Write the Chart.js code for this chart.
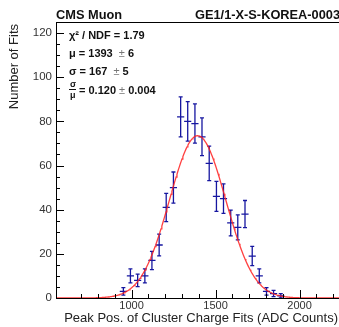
<!DOCTYPE html>
<html>
<head>
<meta charset="utf-8">
<script src="https://cdn.jsdelivr.net/npm/chart.js@4/dist/chart.umd.min.js"></script>
<style>
  html, body { margin: 0; padding: 0; background: #fff; overflow: hidden; }
  #wrap { width: 339px; height: 327px; overflow: hidden; position: relative; }
  canvas { position: absolute; left: 0; top: 0; }
</style>
</head>
<body>
<div id="wrap"><canvas id="peakChart" width="352" height="327"></canvas></div>
<script>
// Peak position histogram (bin centres in ADC counts) and entries per bin
const binCenters = [951, 993, 1036, 1079, 1121, 1164, 1206, 1249, 1292, 1334, 1377, 1419,
                    1462, 1505, 1547, 1590, 1632, 1675, 1718, 1760, 1803, 1845, 1888];
const binCounts  = [3, 10, 8, 10, 17, 24, 41, 50, 82, 80, 79, 73,
                    61, 46, 45, 34, 32, 38, 19, 10, 3, 2, 1];
const binWidth = 42.67;

// Gaussian fit results
const fitConstant = 73.5;
const fitMean = 1393;
const fitSigma = 167;
const fitChi2Ndf = '1.79';

// Axis ranges and labelled ticks
const xRange = [550, 2300];
const yRange = [0, 125];
const xTickLabels = [1000, 1500, 2000];
const yTickLabels = [0, 20, 40, 60, 80, 100, 120];

const BLUE = '#1616a0';
const FONT = '"Liberation Sans", Arial, Helvetica, sans-serif';

const histPoints = binCenters.map((x, i) => ({ x: x, y: binCounts[i] }));

const fitPoints = [];
for (let x = xRange[0]; x <= xRange[1]; x += 5) {
    const z = (x - fitMean) / fitSigma;
    fitPoints.push({ x: x, y: fitConstant * Math.exp(-0.5 * z * z) });
}

// ROOT-style error bars: Poisson errors, horizontal bar over the bin
const errorBars = {
    id: 'errorBars',
    beforeDatasetsDraw(chart) {
        const { ctx, scales: { x, y } } = chart;
        ctx.save();
        ctx.strokeStyle = BLUE;
        ctx.lineWidth = 1.3;
        ctx.beginPath();
        histPoints.forEach(p => {
            const err = Math.sqrt(p.y);
            const px = x.getPixelForValue(p.x);
            const py = y.getPixelForValue(p.y);
            const pl = x.getPixelForValue(p.x - binWidth / 2);
            const pr = x.getPixelForValue(p.x + binWidth / 2);
            const pt = y.getPixelForValue(p.y + err);
            const pb = y.getPixelForValue(p.y - err);
            ctx.moveTo(pl, py); ctx.lineTo(pr, py);
            ctx.moveTo(px, pt); ctx.lineTo(px, pb);
            ctx.moveTo(px - 2, pt); ctx.lineTo(px + 2, pt);
            ctx.moveTo(px - 2, pb); ctx.lineTo(px + 2, pb);
        });
        ctx.stroke();
        ctx.restore();
    }
};

// Frame and inward tick marks
const frame = {
    id: 'frame',
    afterDraw(chart) {
        const { ctx, chartArea: a, scales: { x, y } } = chart;
        ctx.save();
        ctx.strokeStyle = '#000';
        ctx.lineWidth = 1;
        ctx.strokeRect(a.left + 0.5, a.top + 0.5, a.right - a.left, a.bottom - a.top);
        ctx.beginPath();
        x.ticks.forEach(t => {
            if (t.value % 100 !== 0) return;
            const px = Math.round(x.getPixelForValue(t.value)) + 0.5;
            const len = t.value % 500 === 0 ? 8 : 4;
            ctx.moveTo(px, a.bottom); ctx.lineTo(px, a.bottom - len);
        });
        y.ticks.forEach(t => {
            const py = Math.round(y.getPixelForValue(t.value)) + 0.5;
            const len = t.value % 20 === 0 ? 8 : 4;
            ctx.moveTo(a.left, py); ctx.lineTo(a.left + len, py);
        });
        ctx.stroke();
        ctx.restore();
    }
};

function drawRuns(ctx, x, y, runs) {
    runs.forEach(r => {
        ctx.font = r[1] + ' 11px ' + FONT;
        ctx.fillStyle = r[2] || '#111';
        ctx.fillText(r[0], x, y);
        x += ctx.measureText(r[0]).width;
    });
    return x;
}

// Titles, axis titles and fit summary
const labels = {
    id: 'labels',
    afterDraw(chart) {
        const { ctx, chartArea: a } = chart;
        ctx.save();
        ctx.textBaseline = 'alphabetic';
        ctx.fillStyle = '#111';
        ctx.font = 'bold 12.8px ' + FONT;
        ctx.fillText('CMS Muon', 56, 19);
        ctx.fillText('GE1/1-X-S-KOREA-0003', 195, 19);

        ctx.font = '13px ' + FONT;
        ctx.fillStyle = '#222';
        ctx.textAlign = 'right';
        ctx.fillText('Peak Pos. of Cluster Charge Fits (ADC Counts)', 338, 322);

        ctx.save();
        ctx.translate(18, a.top + 2);
        ctx.rotate(-Math.PI / 2);
        ctx.font = '13px ' + FONT;
        ctx.fillText('Number of Fits', 0, 0);
        ctx.restore();

        ctx.textAlign = 'left';
        const gray = '#777';
        drawRuns(ctx, 69, 39, [['\u03c7\u00b2 / NDF = ' + fitChi2Ndf, 'bold']]);
        drawRuns(ctx, 69, 57, [['\u03bc = ' + fitMean, 'bold'], ['  \u00b1 ', 'normal', gray], ['6', 'bold']]);
        drawRuns(ctx, 69, 75, [['\u03c3 = ' + fitSigma, 'bold'], ['  \u00b1 ', 'normal', gray], ['5', 'bold']]);

        // sigma over mu fraction
        ctx.font = 'bold 9px ' + FONT;
        ctx.fillStyle = '#111';
        ctx.fillText('\u03c3', 70, 87);
        ctx.fillText('\u03bc', 70, 98);
        ctx.fillRect(69, 89, 7, 1);
        drawRuns(ctx, 79, 94, [['= 0.120', 'bold'], [' \u00b1 ', 'normal', gray], ['0.004', 'bold']]);
        ctx.restore();
    }
};

new Chart(document.getElementById('peakChart'), {
    type: 'scatter',
    data: {
        datasets: [{
            label: 'Peak positions',
            data: histPoints,
            pointRadius: 0,
            showLine: false
        }, {
            label: 'Gaussian fit',
            type: 'line',
            data: fitPoints,
            borderColor: 'rgba(255, 30, 30, 0.85)',
            borderWidth: 1.3,
            pointRadius: 0,
            tension: 0,
            fill: false
        }]
    },
    options: {
        responsive: false,
        animation: false,
        events: [],
        layout: { padding: { top: 22, right: 2, left: 0, bottom: 0 } },
        plugins: { legend: { display: false }, tooltip: { enabled: false } },
        scales: {
            x: {
                type: 'linear',
                min: xRange[0],
                max: xRange[1],
                grid: { display: false },
                border: { display: false },
                afterFit: s => { s.height = 29; },
                ticks: {
                    stepSize: 100,
                    autoSkip: false,
                    maxRotation: 0,
                    padding: -7,
                    color: '#333',
                    font: { size: 11, family: FONT },
                    callback: v => xTickLabels.includes(v) ? String(v) : ''
                }
            },
            y: {
                min: yRange[0],
                max: yRange[1],
                grid: { display: false },
                border: { display: false },
                afterFit: s => { s.width = 56; },
                ticks: {
                    stepSize: 5,
                    autoSkip: false,
                    padding: -4,
                    color: '#333',
                    font: { size: 11.5, family: FONT },
                    callback: v => yTickLabels.includes(v) ? String(v) : ''
                }
            }
        }
    },
    plugins: [errorBars, frame, labels]
});
</script>
</body>
</html>
